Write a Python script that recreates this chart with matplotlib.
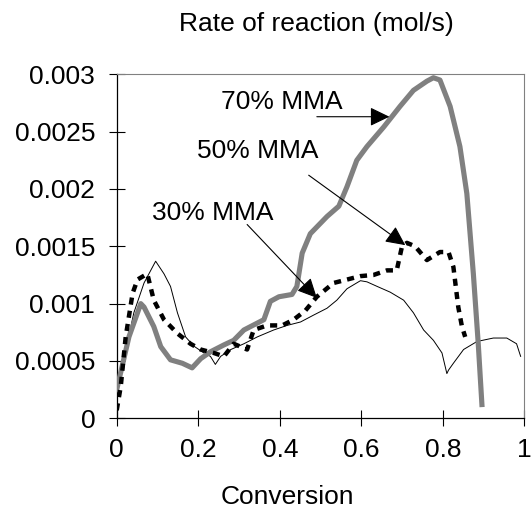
import matplotlib
matplotlib.use("Agg")
import matplotlib.pyplot as plt

plt.rcParams['font.family'] = ['Liberation Sans', 'DejaVu Sans']

# 70% MMA (thick grey)
x70 = [0.0, 0.030, 0.059, 0.067, 0.091, 0.108, 0.132, 0.161, 0.185, 0.206, 0.23, 0.263,
       0.287, 0.312, 0.361, 0.377, 0.398, 0.43, 0.442, 0.455, 0.475, 0.516, 0.545, 0.565,
       0.589, 0.614, 0.655, 0.695, 0.728, 0.761, 0.777, 0.793, 0.818, 0.842, 0.859, 0.875,
       0.887, 0.896]
y70 = [0.00025, 0.00071, 0.00100, 0.00097, 0.00080, 0.000625, 0.00051, 0.00048, 0.00044,
       0.00052, 0.00058, 0.00064, 0.00068, 0.00077, 0.00086, 0.00102, 0.00106, 0.00108,
       0.00115, 0.00144, 0.00161, 0.00176, 0.00185, 0.00202, 0.00225, 0.00237, 0.00254,
       0.00272, 0.00286, 0.00294, 0.00297, 0.00295, 0.00272, 0.00237, 0.00196, 0.00126,
       0.00065, 0.00012]

# 50% MMA (thick black dotted)
x50 = [0.0, 0.01, 0.022, 0.039, 0.051, 0.075, 0.091, 0.116, 0.149, 0.181, 0.206, 0.238,
       0.263, 0.287, 0.32, 0.336, 0.369, 0.406, 0.434, 0.463, 0.491, 0.532, 0.565, 0.598,
       0.63, 0.663, 0.687, 0.70, 0.712, 0.732, 0.761, 0.793, 0.814, 0.826, 0.838, 0.847,
       0.855]
y50 = [0.00007, 0.00028, 0.00071, 0.00109, 0.00121, 0.00126, 0.00103, 0.00086, 0.00074,
       0.00065, 0.00060, 0.00057, 0.00054, 0.00065, 0.00060, 0.00077, 0.00081, 0.00081,
       0.00086, 0.00094, 0.00106, 0.00118, 0.00121, 0.00124, 0.00125, 0.00129, 0.00129,
       0.00150, 0.00153, 0.00150, 0.00138, 0.00145, 0.00145, 0.00132, 0.00097, 0.00080,
       0.00071]

# 30% MMA (thin black)
x30 = [0.0, 0.042, 0.067, 0.0955, 0.116, 0.132, 0.149, 0.169, 0.189, 0.214, 0.23, 0.242,
       0.255, 0.28, 0.312, 0.345, 0.385, 0.418, 0.451, 0.483, 0.516, 0.54, 0.565, 0.598,
       0.614, 0.639, 0.671, 0.704, 0.728, 0.753, 0.777, 0.798, 0.81, 0.814, 0.826, 0.851,
       0.884, 0.924, 0.957, 0.981, 0.991]
y30 = [0.00022, 0.00092, 0.00118, 0.00137, 0.00126, 0.00115, 0.00092, 0.00071, 0.00063,
       0.00057, 0.00054, 0.00047, 0.00054, 0.00060, 0.00065, 0.00071, 0.00077, 0.00081,
       0.00084, 0.00090, 0.00096, 0.00103, 0.00113, 0.00120, 0.00119, 0.00115, 0.00110,
       0.00103, 0.00092, 0.00077, 0.00068, 0.00057, 0.00039, 0.00042, 0.00048, 0.00060,
       0.00067, 0.00070, 0.00070, 0.00065, 0.00054]

labels = ["70% MMA", "50% MMA", "30% MMA"]
label_pos = [(0.404, 0.00276), (0.346, 0.00233), (0.236, 0.00179)]
arrow_start = [(0.491, 0.00263), (0.471, 0.00212), (0.32, 0.00169)]
arrow_end = [(0.669, 0.00263), (0.708, 0.00151), (0.491, 0.00105)]

xticks = [0, 0.2, 0.4, 0.6, 0.8, 1]
xticklabels = ["0", "0.2", "0.4", "0.6", "0.8", "1"]
yticks = [0, 0.0005, 0.001, 0.0015, 0.002, 0.0025, 0.003]
yticklabels = ["0", "0.0005", "0.001", "0.0015", "0.002", "0.0025", "0.003"]

fs = 19
fig = plt.figure(figsize=(5.31, 5.12), dpi=100)
ax = fig.add_axes([0.2198, 0.183, 0.9874 - 0.2198, 0.8549 - 0.183])

ax.plot(x70, y70, color="#808080", lw=3.7, zorder=3)
ax.plot(x50, y50, color="black", lw=3.2, dashes=(1.6, 1.4), zorder=4)
ax.plot(x30, y30, color="black", lw=0.7, zorder=2)

for lab, lp, st, en in zip(labels, label_pos, arrow_start, arrow_end):
    ax.text(lp[0], lp[1], lab, fontsize=fs, ha="center", va="center")
    ax.annotate("", xy=en, xytext=st,
                arrowprops=dict(arrowstyle="-|>,head_length=0.6,head_width=0.29",
                                color="black", lw=0.8,
                                mutation_scale=20, shrinkA=0, shrinkB=0),
                zorder=5)

ax.set_xlim(0, 1)
ax.set_ylim(0, 0.003)
ax.set_xticks(xticks)
ax.set_xticklabels(xticklabels)
ax.set_yticks(yticks)
ax.set_yticklabels(yticklabels)
ax.tick_params(direction="inout", length=12, width=0.8, labelsize=fs, pad=9.5)
ax.tick_params(axis="x", pad=8)
for s in ["top", "right"]:
    ax.spines[s].set_color("#808080")
    ax.spines[s].set_linewidth(0.8)
for s in ["left", "bottom"]:
    ax.spines[s].set_linewidth(0.9)

fig.text(316 / 531, 1 - 24 / 512, "Rate of reaction (mol/s)", fontsize=fs,
         ha="center", va="center")
fig.text(287 / 531, 1 - 497 / 512, "Conversion", fontsize=fs,
         ha="center", va="center")

fig.savefig("out.png", dpi=100)
